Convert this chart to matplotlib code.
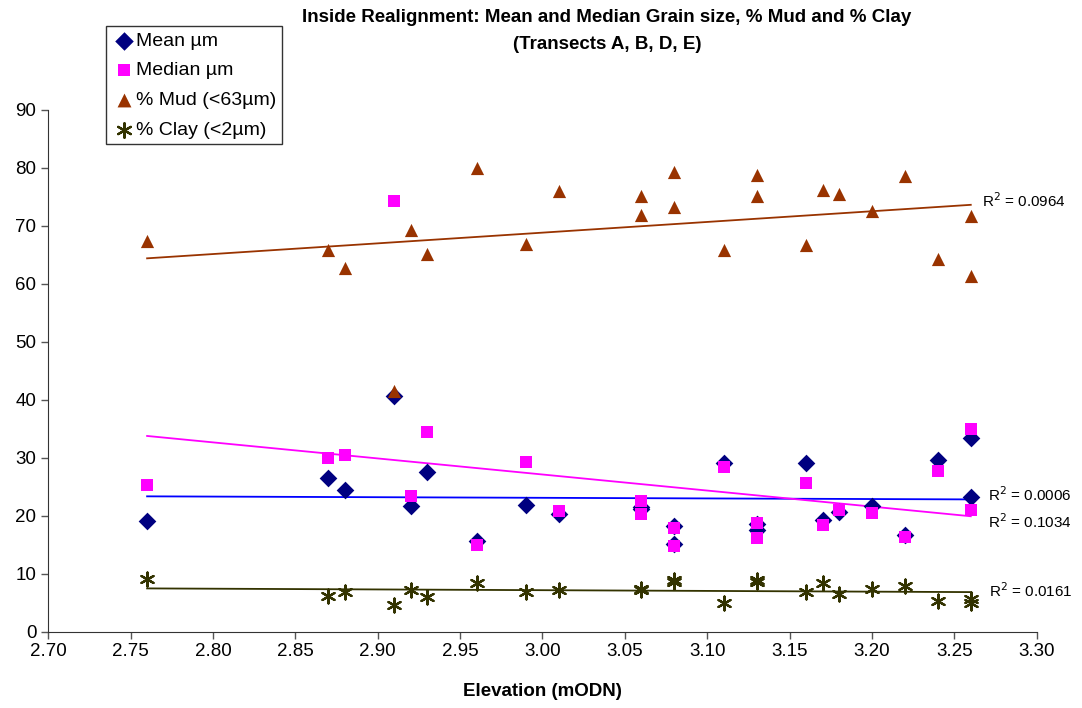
import numpy as np
import matplotlib
matplotlib.use("Agg")
import matplotlib.pyplot as plt

plt.rcParams['font.family'] = ['Liberation Sans', 'DejaVu Sans']

# elevation (mODN) for each sample
elev = [2.76, 2.87, 2.88, 2.91, 2.92, 2.93, 2.96, 2.99, 3.01, 3.06, 3.06,
        3.08, 3.08, 3.11, 3.13, 3.13, 3.16, 3.17, 3.18, 3.20, 3.22, 3.24,
        3.26, 3.26]
mean_um = [19.1, 26.4, 24.4, 40.7, 21.7, 27.5, 15.6, 21.8, 20.2, 21.5, 21.1,
           18.2, 15.1, 29.1, 18.6, 17.5, 29.1, 19.3, 20.6, 21.7, 16.6, 29.6,
           33.3, 23.2]
median_um = [25.3, 29.9, 30.4, 74.2, 23.3, 34.5, 14.9, 29.2, 20.8, 22.6, 20.2,
             17.9, 14.8, 28.4, 18.8, 16.1, 25.6, 18.4, 20.9, 20.5, 16.3, 27.7,
             35.0, 20.9]
mud = [67.3, 65.8, 62.7, 41.5, 69.3, 65.2, 79.9, 66.8, 76.0, 75.1, 71.9,
       79.2, 73.2, 65.8, 78.8, 75.1, 66.6, 76.2, 75.5, 72.5, 78.6, 64.2,
       71.7, 61.3]
clay = [9.0, 6.1, 6.8, 4.6, 7.1, 6.0, 8.3, 6.9, 7.2, 7.4, 7.1,
        8.9, 8.5, 5.0, 8.9, 8.5, 6.8, 8.4, 6.5, 7.4, 7.9, 5.3,
        5.6, 5.0]

r2_labels = ["0.0006", "0.1034", "0.0964", "0.0161"]

fig = plt.figure(figsize=(10.82, 7.08), dpi=100)
ax = fig.add_axes([0.0446, 0.108, 0.9135, 0.737])

x = np.array(elev)
series = [
    ("Mean µm", mean_um, "D", "#000080", "#0000FF", 9.0, r2_labels[0]),
    ("Median µm", median_um, "s", "#FF00FF", "#FF00FF", 8.2, r2_labels[1]),
    ("% Mud (<63µm)", mud, "^", "#993300", "#993300", 9.5, r2_labels[2]),
    ("% Clay (<2µm)", clay, (6, 2, 0), "#333300", "#333300", 10, r2_labels[3]),
]
r2_pos = [(3.2707, 23.6), (3.2707, 18.9), (3.2666, 74.4), (3.2710, 7.1)]

for (lab, y, mk, mc, lc, ms, r2), pos in zip(series, r2_pos):
    y = np.array(y)
    if isinstance(mk, tuple):
        ax.scatter(x, y, marker=mk, s=ms**2, color=mc, linewidths=1.6,
                   label=lab, zorder=3)
    else:
        ax.scatter(x, y, marker=mk, s=ms**2, color=mc, linewidths=0,
                   label=lab, zorder=3)
    k, b = np.polyfit(x, y, 1)
    xx = np.array([x.min(), x.max()])
    ax.plot(xx, k * xx + b, color=lc, lw=1.3, zorder=2)
    ax.text(pos[0], pos[1], "R$^2$ = " + r2, fontsize=11, va="center",
            ha="left")

ax.set_xlim(2.70, 3.30)
ax.set_ylim(0, 90)
ax.set_xticks(np.arange(2.70, 3.301, 0.05))
ax.set_xticklabels([f"{v:.2f}" for v in np.arange(2.70, 3.301, 0.05)])
ax.set_yticks(np.arange(0, 91, 10))
ax.tick_params(labelsize=13.5, direction="out", length=5, width=1,
               color="#555555")
for s in ["top", "right"]:
    ax.spines[s].set_visible(False)
for s in ["left", "bottom"]:
    ax.spines[s].set_color("#333333")

ax.set_xlabel("Elevation (mODN)", fontsize=13.5, fontweight="bold", labelpad=16)

fig.text(0.561, 0.987, "Inside Realignment: Mean and Median Grain size, % Mud and % Clay\n(Transects A, B, D, E)",
         ha="center", va="top", fontsize=13.5, fontweight="bold",
         linespacing=1.75)

leg = fig.legend(loc="upper left", bbox_to_anchor=(0.098, 0.963),
                 fontsize=14, frameon=True, fancybox=False,
                 handletextpad=0.05, handlelength=1.2, borderpad=0.3,
                 labelspacing=0.62, borderaxespad=0, markerscale=1.05)
leg.get_frame().set_edgecolor("#000000")
leg.get_frame().set_linewidth(1)

fig.savefig("out.png", dpi=100)
